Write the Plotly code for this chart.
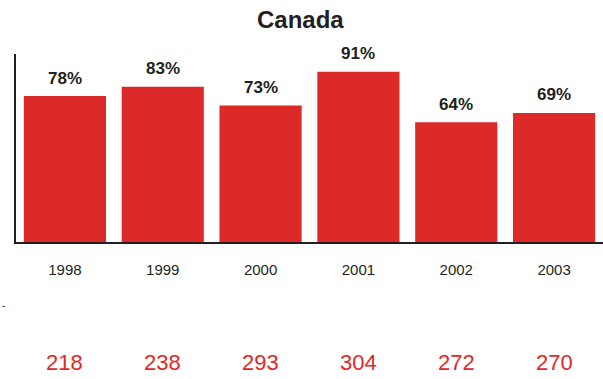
import plotly.graph_objects as go

years = ["1998", "1999", "2000", "2001", "2002", "2003"]
pct = [78, 83, 73, 91, 64, 69]
counts = [218, 238, 293, 304, 272, 270]

W, H = 603, 379
L, R, T, B = 16, 0, 54, 137
RED = "#dc2a28"
DARK = "#231f20"
FONT = "Liberation Sans, Arial, sans-serif"

idx = list(range(len(years)))

fig = go.Figure()
fig.add_trace(go.Bar(x=idx, y=pct, width=0.84, marker=dict(color=RED, line=dict(width=0)), hoverinfo="skip"))

ann = []
for i, p in zip(idx, pct):
    ann.append(dict(x=i, y=p, xref="x", yref="y", text=f"<b>{p}%</b>", showarrow=False,
                    yanchor="middle", yshift=18, font=dict(size=17, color=DARK, family=FONT)))
for i, c in zip(idx, counts):
    ann.append(dict(x=i, y=(H - 362 - B) / (H - T - B), xref="x", yref="paper", text=str(c),
                    showarrow=False, yanchor="middle", font=dict(size=22, color="#e0282a", family=FONT)))
ann.append(dict(x=(300 - L) / (W - L - R), y=(H - 20 - B) / (H - T - B), xref="paper", yref="paper",
                text="<b>Canada</b>", showarrow=False, yanchor="middle",
                font=dict(size=24, color=DARK, family=FONT)))
ann.append(dict(x=(0 - L) / (W - L - R), y=(H - 305 - B) / (H - T - B), xref="paper", yref="paper",
                text="-", showarrow=False, xanchor="left", yanchor="middle",
                font=dict(size=10, color=DARK, family=FONT)))

fig.update_layout(
    width=W, height=H,
    margin=dict(l=L, r=R, t=T, b=B, pad=0),
    paper_bgcolor="white", plot_bgcolor="white",
    showlegend=False,
    annotations=ann,
    font=dict(family=FONT, color=DARK),
    xaxis=dict(range=[-0.5, 5.5], tickmode="array", tickvals=idx, ticktext=years,
               showline=True, linecolor=DARK, linewidth=2, ticks="", zeroline=False,
               showgrid=False, tickfont=dict(size=15, color=DARK, family=FONT),
               ticklabelstandoff=13, fixedrange=True),
    yaxis=dict(range=[0, 100.5], showline=True, linecolor=DARK, linewidth=2, showgrid=False,
               showticklabels=False, ticks="", zeroline=False, fixedrange=True),
)
fig.write_html("out.html", config=dict(displayModeBar=False))
